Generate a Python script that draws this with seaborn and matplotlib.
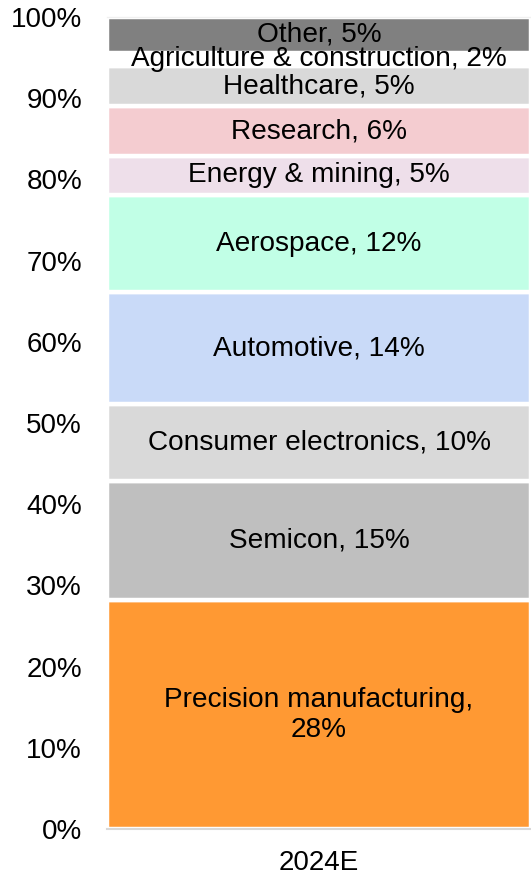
import matplotlib
matplotlib.use("Agg")
import matplotlib.pyplot as plt
import seaborn as sns
from matplotlib.ticker import PercentFormatter, FixedLocator

# segments, bottom to top
segments = ["Precision manufacturing,\n", "Semicon, ", "Consumer electronics, ", "Automotive, ",
            "Aerospace, ", "Energy & mining, ", "Research, ", "Healthcare, ",
            "Agriculture & construction, ", "Other, "]
shares = [28.2, 14.6, 9.5, 13.8, 12.0, 4.8, 6.1, 5.0, 1.6, 4.4]
printed = [28, 15, 10, 14, 12, 5, 6, 5, 2, 5]
colors = ["#FF9933", "#BFBFBF", "#D9D9D9", "#C9DAF8", "#C1FFE6",
          "#EEDFEA", "#F4CCD0", "#D9D9D9", "#FFFFFF", "#808080"]
year = ["2024E"]

sns.set_style("white")
plt.rcParams['font.family'] = ['Liberation Sans', 'DejaVu Sans']

fig = plt.figure(figsize=(5.31, 8.75), dpi=100)
ax = fig.add_axes([107 / 531, 46 / 875, 424 / 531, 812 / 875])

bottom = 0.0
for name, v, c, p in zip(segments, shares, colors, printed):
    sns.barplot(x=year, y=[v / 100], bottom=bottom, color=c, width=1.0,
                edgecolor="white", linewidth=3.2, ax=ax, saturation=1)
    ax.text(0, bottom + v / 200, f"{name}{p}%", ha="center", va="center",
            fontsize=20.2, color="black")
    bottom += v / 100

ax.set_xlim(-0.5, 0.5)
ax.set_ylim(0, 1)
ax.yaxis.set_major_locator(FixedLocator([i / 10 for i in range(11)]))
ax.yaxis.set_major_formatter(PercentFormatter(1.0, decimals=0))
ax.tick_params(axis="y", length=0, pad=18, labelsize=20, labelcolor="black")
ax.tick_params(axis="x", length=0, pad=15, labelsize=20, labelcolor="black")
ax.xaxis.set_minor_locator(FixedLocator([-0.5]))
ax.tick_params(axis="x", which="minor", length=7, width=1.5, color="#D9D9D9")

for s in ["left", "right"]:
    ax.spines[s].set_visible(False)
ax.spines["bottom"].set_color("#D9D9D9")
ax.spines["bottom"].set_linewidth(1.5)
ax.spines["top"].set_color("#F0F0F0")
ax.spines["top"].set_linewidth(1.0)
ax.set_xlabel("")
ax.set_ylabel("")

fig.savefig("out.png", dpi=100)
